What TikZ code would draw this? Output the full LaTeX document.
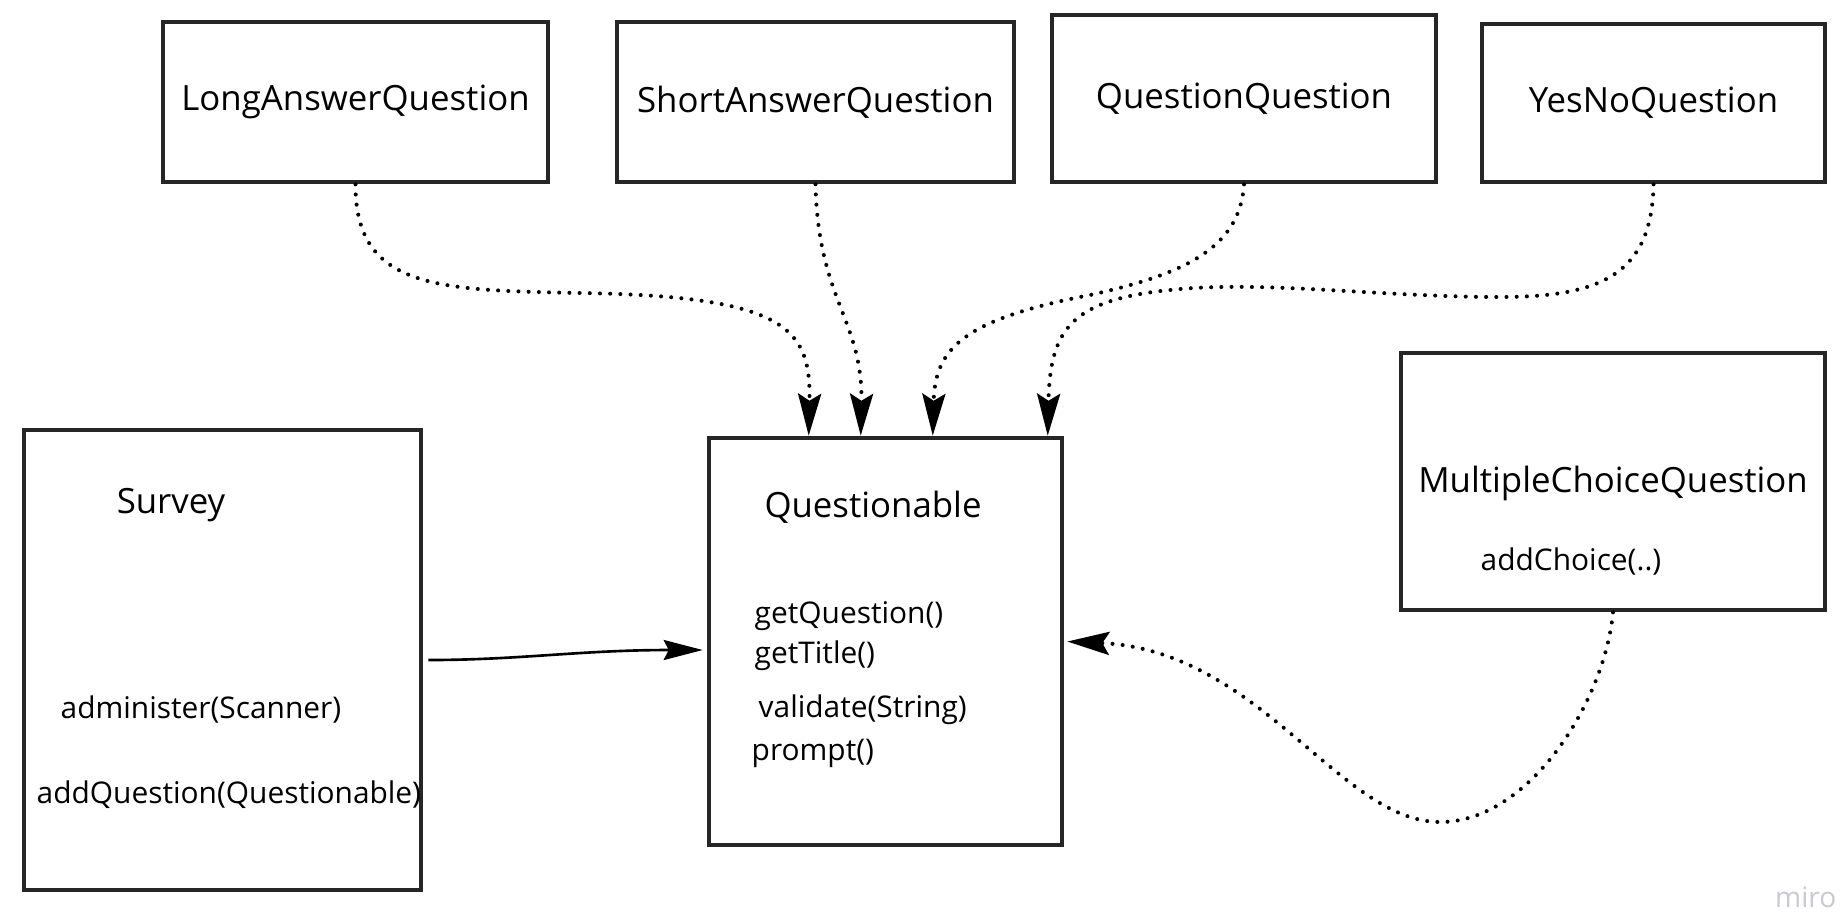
\documentclass[tikz,border=0pt]{standalone}
\usepackage{fontspec}
\setmainfont{Open Sans}
\usetikzlibrary{arrows.meta}
\definecolor{mirogray}{RGB}{200,200,214}
\tikzset{
	cls/.style = {
		shape=rectangle,
		draw=black!85,
		line width=1.3pt,
		inner sep=0pt,
		font=\fontsize{9.9}{12}\selectfont
	},
	title/.style = {
		anchor=base,
		font=\fontsize{9.9}{12}\selectfont
	},
	method/.style = {
		anchor=base west,
		inner sep=0pt,
		font=\fontsize{8.5}{10}\selectfont
	},
	impl/.style = {
		line width=1.15pt,
		line cap=round,
		dash pattern=on 0pt off 2.9pt,
		-{Stealth[length=4.2mm,width=2.3mm,inset=0.7mm]}
	},
	uses/.style = {
		line width=0.75pt,
		-{Stealth[length=3.9mm,width=2mm,inset=0.5mm]}
	}
}

\begin{document}
\begin{tikzpicture}
		\useasboundingbox (0,0) rectangle (18.42,-9.14);
		\node[cls, minimum width=3.85cm, minimum height=1.60cm] (long) at (3.555,-1.02) {LongAnswerQuestion};
		\node[cls, minimum width=3.97cm, minimum height=1.60cm] (short) at (8.155,-1.02) {ShortAnswerQuestion};
		\node[cls, minimum width=3.84cm, minimum height=1.67cm] (qq) at (12.44,-0.985) {QuestionQuestion};
		\node[cls, minimum width=3.43cm, minimum height=1.58cm] (yesno) at (16.535,-1.03) {YesNoQuestion};
		\node[cls, minimum width=3.97cm, minimum height=4.60cm] (survey) at (2.225,-6.60) {};
		\node[cls, minimum width=3.53cm, minimum height=4.07cm] (q) at (8.855,-6.415) {};
		\node[cls, minimum width=4.24cm, minimum height=2.57cm] (mcq) at (16.13,-4.815) {};
		\node[title] (surveytitle) at (1.71,-5.13) {Survey};
		\node[method] (administer) at (0.60,-7.18) {administer(Scanner)};
		\node[method] (addquestion) at (0.36,-8.03) {addQuestion(Questionable)};
		\node[title] (qtitle) at (8.73,-5.17) {Questionable};
		\node[method] (getquestion) at (7.54,-6.23) {getQuestion()};
		\node[method] (gettitle) at (7.54,-6.63) {getTitle()};
		\node[method] (validate) at (7.58,-7.17) {validate(String)};
		\node[method] (prompt) at (7.51,-7.60) {prompt()};
		\node[title] (mcqtitle) at (16.13,-4.92) {MultipleChoiceQuestion};
		\node[method] (addchoice) at (14.80,-5.70) {addChoice(..)};
		\node[anchor=base east, inner sep=0pt, text=mirogray, font=\fontsize{8}{9}\selectfont] (miro) at (18.37,-9.07) {miro};
		\draw[impl] (long.south) .. controls (3.55,-2.90) and (4.40,-2.90) .. (5.80,-2.93) .. controls (7.90,-2.96) and (8.11,-3.30) .. ([xshift=1.02cm]q.north west);
		\draw[impl] (short.south) .. controls (8.18,-3.00) and (8.63,-3.20) .. ([xshift=1.54cm]q.north west);
		\draw[impl] (qq.south) .. controls (12.40,-2.50) and (11.80,-2.75) .. (10.90,-2.95) .. controls (9.60,-3.20) and (9.35,-3.50) .. ([xshift=2.26cm]q.north west);
		\draw[impl] (yesno.south) .. controls (16.52,-2.75) and (16.00,-2.97) .. (15.00,-2.97) .. controls (13.80,-2.97) and (12.60,-2.80) .. (11.70,-2.90) .. controls (10.70,-3.00) and (10.50,-3.30) .. ([xshift=3.41cm]q.north west);
		\draw[impl] (mcq.south) .. controls (16.05,-7.00) and (15.30,-8.22) .. (14.40,-8.22) .. controls (13.40,-8.22) and (12.60,-6.50) .. ([xshift=0.03cm]q.east);
		\draw[uses] ([xshift=0.05cm]survey.east) .. controls (5.20,-6.60) and (5.80,-6.50) .. ([xshift=-0.04cm,yshift=-0.085cm]q.west);
		\end{tikzpicture}
\end{document}
